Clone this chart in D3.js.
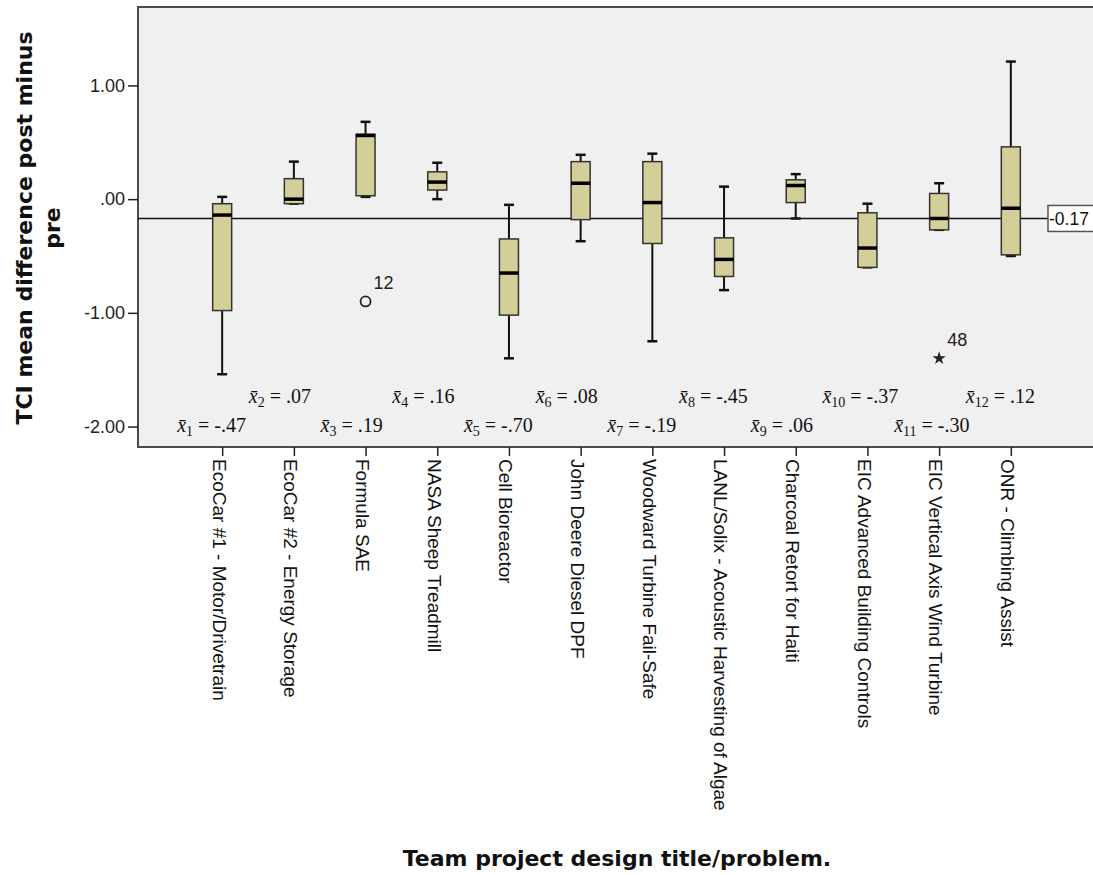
<!DOCTYPE html>
<html>
<head>
<meta charset="utf-8">
<script src="https://cdn.jsdelivr.net/npm/d3@7/dist/d3.min.js"></script>
<style>
  html, body { margin: 0; padding: 0; background: #fff; }
  svg { display: block; }
  text { white-space: pre; }
</style>
</head>
<body>
<svg id="chart" width="1093" height="875"></svg>
<script>
// ---- data ----
const categories = [
  "EcoCar #1 - Motor/Drivetrain",
  "EcoCar #2 - Energy Storage",
  "Formula SAE",
  "NASA Sheep Treadmill",
  "Cell Bioreactor",
  "John Deere Diesel DPF",
  "Woodward Turbine Fail-Safe",
  "LANL/Solix - Acoustic Harvesting of Algae",
  "Charcoal Retort for Haiti",
  "EIC Advanced Building Controls",
  "EIC Vertical Axis Wind Turbine",
  "ONR - Climbing Assist"
];
const whiskerLow  = [-1.54, -0.04, 0.02, 0.00, -1.40, -0.37, -1.25, -0.80, -0.17, -0.60, -0.27, -0.50];
const q1          = [-0.98, -0.04, 0.03, 0.08, -1.02, -0.18, -0.39, -0.68, -0.03, -0.60, -0.27, -0.49];
const medians     = [-0.14,  0.00, 0.56, 0.15, -0.65,  0.14, -0.03, -0.53,  0.12, -0.43, -0.17, -0.08];
const q3          = [-0.04,  0.18, 0.57, 0.24, -0.35,  0.33,  0.33, -0.34,  0.17, -0.12,  0.05,  0.46];
const whiskerHigh = [ 0.02,  0.33, 0.68, 0.32, -0.05,  0.39,  0.40,  0.11,  0.22, -0.04,  0.14,  1.21];
const means       = [-0.47, 0.07, 0.19, 0.16, -0.70, 0.08, -0.19, -0.45, 0.06, -0.37, -0.30, 0.12];
const outlierCategory = [2, 10];
const outlierValues   = [-0.90, -1.40];
const outlierIds      = ["12", "48"];
const outlierKinds    = ["circle", "star"];
const referenceValue  = -0.17;
const yTicks = [1, 0, -1, -2];
const yTitleLines = ["TCI mean difference post minus", "pre"];
const xTitle = "Team project design title/problem.";

// ---- layout ----
const svg = d3.select("#chart");
const plot = { left: 138, right: 1094, top: 7, bottom: 447 };

const y = d3.scaleLinear().domain([-2.18, 1.69]).range([plot.bottom, plot.top]);
const x = d3.scalePoint().domain(categories).range([139, 1094]).padding(1.16);

const locale = d3.formatLocale({ decimal: ".", thousands: ",", grouping: [3], currency: ["", ""], minus: "-" });
const f2 = locale.format(".2f");
const fmt = v => f2(v).replace(/^(-?)0\./, "$1.");
const sans = "'Liberation Sans', Arial, sans-serif";
const serif = "'Liberation Serif', 'Times New Roman', serif";
const boldFont = "'DejaVu Sans', Verdana, sans-serif";

// plot background
svg.append("rect")
  .attr("x", plot.left).attr("y", plot.top)
  .attr("width", 1120 - plot.left).attr("height", plot.bottom - plot.top)
  .attr("fill", "#f0f0f0").attr("stroke", "#4a4a4a").attr("stroke-width", 2);

// y axis
const yAxis = d3.axisLeft(y).tickValues(yTicks).tickFormat(fmt).tickSize(10).tickPadding(3);
const gy = svg.append("g").attr("transform", `translate(${plot.left},0)`).call(yAxis);
gy.select(".domain").remove();
gy.selectAll(".tick line").attr("stroke", "#222").attr("stroke-width", 1.5);
gy.selectAll(".tick text").attr("font-family", sans).attr("font-size", 18).attr("fill", "#222");

// x axis
const xAxis = d3.axisBottom(x).tickSize(9).tickFormat("");
const gx = svg.append("g").attr("transform", `translate(0,${plot.bottom})`).call(xAxis);
gx.select(".domain").remove();
gx.selectAll(".tick line").attr("stroke", "#222").attr("stroke-width", 1.5);

// category labels (rotated)
svg.append("g").selectAll("text").data(categories).join("text")
  .attr("transform", d => `translate(${x(d) - 3},${plot.bottom + 12}) rotate(90)`)
  .attr("dy", "0.35em")
  .attr("text-anchor", "start")
  .attr("font-family", sans).attr("font-size", 19).attr("fill", "#111")
  .text(d => d);

// reference line
svg.append("line")
  .attr("x1", plot.left).attr("x2", 1048)
  .attr("y1", y(referenceValue)).attr("y2", y(referenceValue))
  .attr("stroke", "#111").attr("stroke-width", 1.5);
const refG = svg.append("g");
refG.append("rect")
  .attr("x", 1048).attr("y", y(referenceValue) - 13)
  .attr("width", 60).attr("height", 26)
  .attr("fill", "#fff").attr("stroke", "#555").attr("stroke-width", 1.5);
refG.append("text")
  .attr("x", 1049).attr("y", y(referenceValue) + 7)
  .attr("font-family", sans).attr("font-size", 17.5).attr("fill", "#111")
  .text(f2(referenceValue));

// boxes
const boxW = 19, capW = 10;
const boxes = svg.append("g").selectAll("g").data(categories).join("g");
boxes.append("line")
  .attr("x1", d => x(d)).attr("x2", d => x(d))
  .attr("y1", (d, i) => y(whiskerHigh[i])).attr("y2", (d, i) => y(q3[i]))
  .attr("stroke", "#111").attr("stroke-width", 2);
boxes.append("line")
  .attr("x1", d => x(d)).attr("x2", d => x(d))
  .attr("y1", (d, i) => y(q1[i])).attr("y2", (d, i) => y(whiskerLow[i]))
  .attr("stroke", "#111").attr("stroke-width", 2);
boxes.append("line")
  .attr("x1", d => x(d) - capW / 2).attr("x2", d => x(d) + capW / 2)
  .attr("y1", (d, i) => y(whiskerHigh[i])).attr("y2", (d, i) => y(whiskerHigh[i]))
  .attr("stroke", "#111").attr("stroke-width", 2.5);
boxes.append("line")
  .attr("x1", d => x(d) - capW / 2).attr("x2", d => x(d) + capW / 2)
  .attr("y1", (d, i) => y(whiskerLow[i])).attr("y2", (d, i) => y(whiskerLow[i]))
  .attr("stroke", "#111").attr("stroke-width", 2.5);
boxes.append("rect")
  .attr("x", d => x(d) - boxW / 2).attr("width", boxW)
  .attr("y", (d, i) => y(q3[i]))
  .attr("height", (d, i) => Math.max(1, y(q1[i]) - y(q3[i])))
  .attr("fill", "#d4cf98").attr("stroke", "#333").attr("stroke-width", 1.5);
boxes.append("line")
  .attr("x1", d => x(d) - boxW / 2).attr("x2", d => x(d) + boxW / 2)
  .attr("y1", (d, i) => y(medians[i])).attr("y2", (d, i) => y(medians[i]))
  .attr("stroke", "#000").attr("stroke-width", 3.5);

// outliers / extremes
outlierValues.forEach((v, k) => {
  const cx = x(categories[outlierCategory[k]]), cy = y(v);
  if (outlierKinds[k] === "circle") {
    svg.append("circle").attr("cx", cx).attr("cy", cy).attr("r", 5)
      .attr("fill", "none").attr("stroke", "#222").attr("stroke-width", 1.8);
  } else {
    svg.append("path").attr("d", d3.symbol(d3.symbolStar, 55)())
      .attr("transform", `translate(${cx},${cy})`).attr("fill", "#222");
  }
  svg.append("text").attr("x", cx + 8).attr("y", cy - 12)
    .attr("font-family", sans).attr("font-size", 18).attr("fill", "#222")
    .text(outlierIds[k]);
});

// mean labels
const meanG = svg.append("g");
categories.forEach((c, i) => {
  const t = meanG.append("text")
    .attr("x", x(c) - 45).attr("y", i % 2 === 0 ? 432 : 403)
    .attr("font-family", serif).attr("font-size", 20).attr("fill", "#111");
  t.append("tspan").attr("font-style", "italic").text("x\u0304");
  t.append("tspan").attr("font-size", 14).attr("dy", 4).text(String(i + 1));
  t.append("tspan").attr("dy", -4).text(" = " + fmt(means[i]));
});

// axis titles
const yt = svg.append("text")
  .attr("transform", "translate(0,228) rotate(-90)")
  .attr("text-anchor", "middle")
  .attr("font-family", boldFont).attr("font-weight", "bold").attr("font-size", 22).attr("fill", "#111");
yTitleLines.forEach((line, k) => {
  yt.append("tspan").attr("x", 0).attr("y", 32 + k * 28).text(line);
});
svg.append("text")
  .attr("x", 617).attr("y", 866)
  .attr("text-anchor", "middle")
  .attr("font-family", boldFont).attr("font-weight", "bold").attr("font-size", 22).attr("fill", "#111")
  .text(xTitle);
</script>
</body>
</html>
